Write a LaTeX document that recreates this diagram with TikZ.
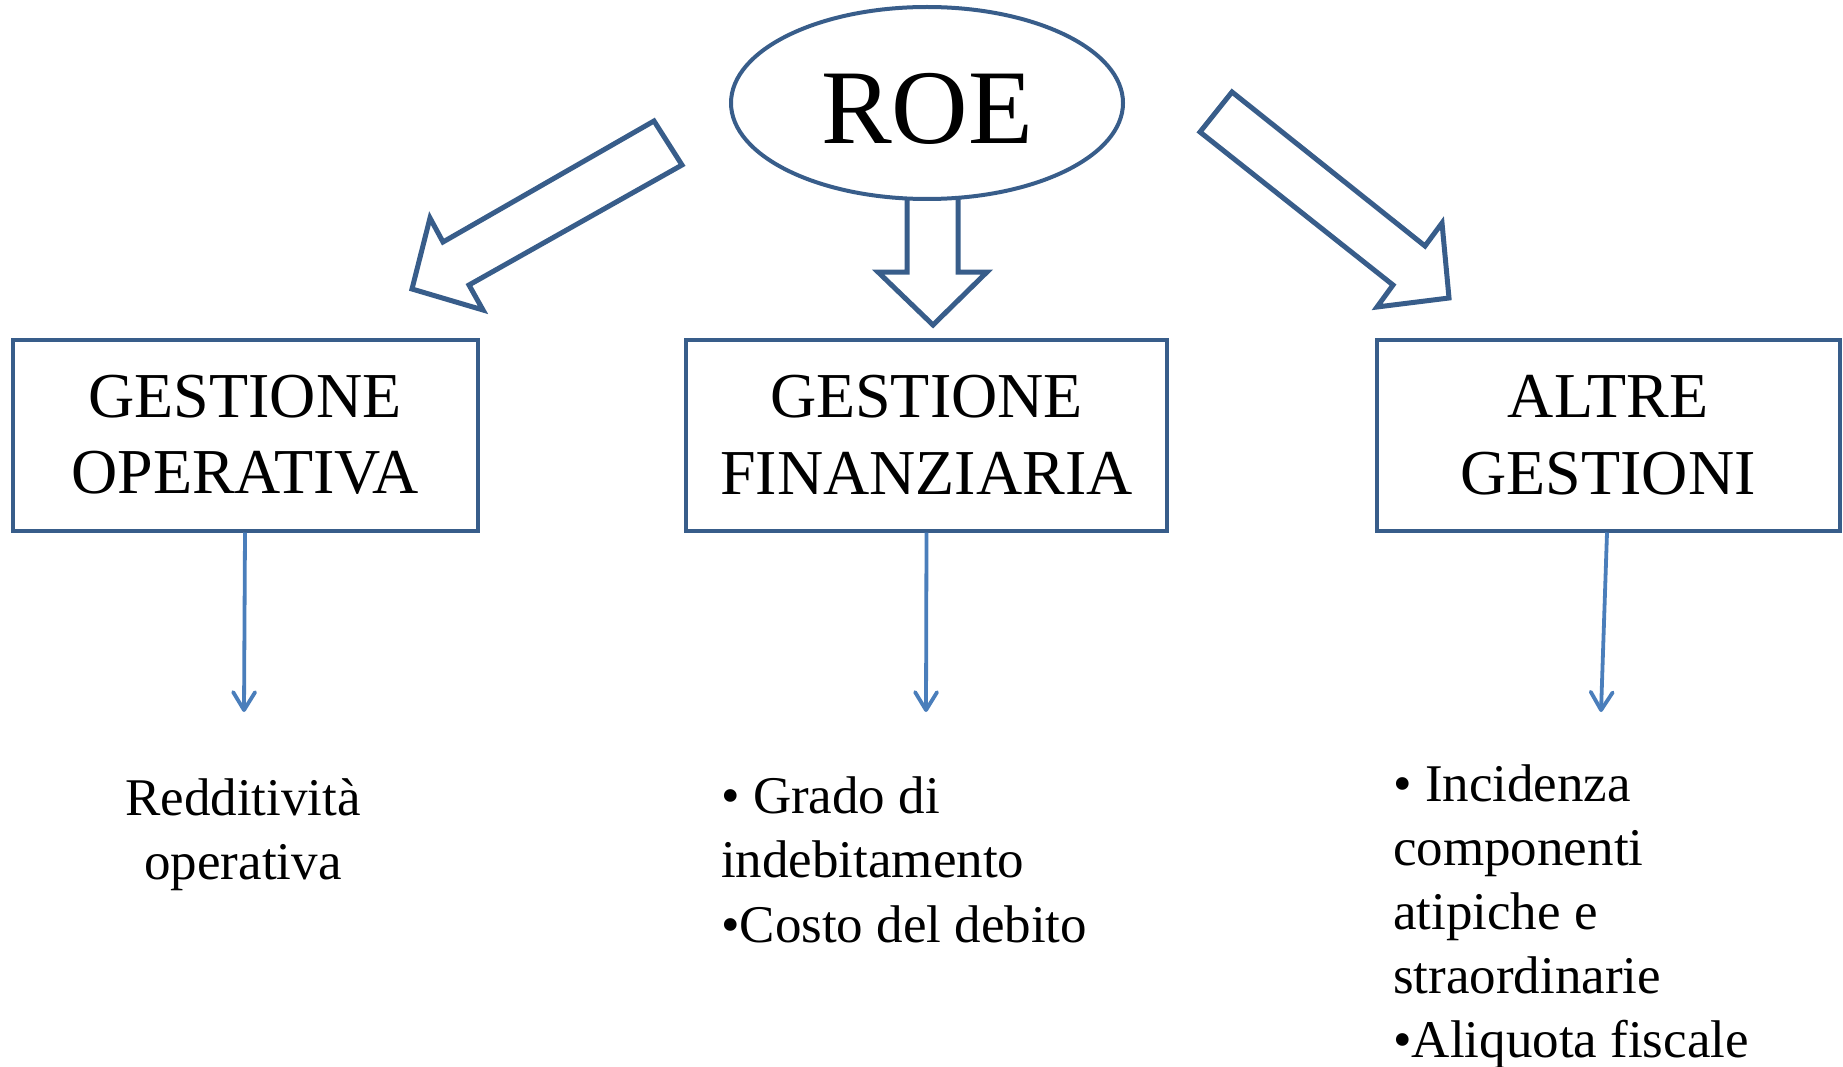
\documentclass[tikz,border=0pt]{standalone}
\usepackage{fontspec}
\setmainfont{Liberation Serif}
\usepackage{tikz}
\usepackage{xcolor}
\usetikzlibrary{arrows.meta,shapes.geometric}

\definecolor{outlineblue}{RGB}{56,93,138}
\definecolor{linkblue}{RGB}{74,126,187}

\begin{document}
\begin{tikzpicture}[x=1pt,y=-1pt,
      roe/.style={ellipse, draw=outlineblue, line width=4pt, fill=white, minimum width=392pt, minimum height=192pt, inner sep=0pt, text height=82pt, text depth=0pt, font={\fontsize{106}{110}\selectfont}},
      gestbox/.style={rectangle, draw=outlineblue, line width=4pt, inner sep=0pt, align=center, minimum height=191pt, font={\fontsize{64}{76.5}\selectfont}},
      bigarrow/.style={draw=outlineblue, line width=5pt, fill=white, line join=miter},
      thinarrow/.style={-{Straight Barb[length=18pt,width=22pt,line cap=round,line join=round]}, draw=linkblue, line width=3.8pt},
      voce/.style={inner sep=0pt, font={\fontsize{53}{64.5}\selectfont}}]

    \useasboundingbox (0,0) rectangle (1843,1067);

    %draw block arrows
    \draw[bigarrow] (654,121) -- (682,165) -- (469,285) -- (483,310) -- (412,289) -- (430,218) -- (443,242) -- cycle;
    \draw[bigarrow] (907,190) -- (958,190) -- (958,272) -- (987,272) -- (933,325) -- (878,272) -- (907,272) -- cycle;
    \draw[bigarrow] (1232,92) -- (1200,132) -- (1393,285) -- (1377,307) -- (1449,298) -- (1442,223) -- (1425,246) -- cycle;

    %draw ROE
    \node[roe] (roe) at (927,103) {ROE};

    %draw boxes
    \node[gestbox, minimum width=465pt] (oper) at (245,435) {GESTIONE\\OPERATIVA};
    \node[gestbox, minimum width=481pt] (fin) at (926.5,435) {GESTIONE\\FINANZIARIA};
    \node[gestbox, minimum width=463pt] (altre) at (1608,435) {ALTRE\\GESTIONI};

    %draw thin arrows
    \coordinate (oper-end) at (244,712);
    \coordinate (fin-end) at (926,712);
    \coordinate (altre-end) at (1601,712);
    \draw[thinarrow] (oper.south) -- (oper-end);
    \draw[thinarrow] (fin.south) -- (fin-end);
    \draw[thinarrow] ([xshift=-1pt]altre.south) -- (altre-end);

    %draw indicators (base = last line)
    \node[voce, align=center, anchor=base, font={\fontsize{53}{64}\selectfont}] (redd) at (243,879) {Redditività\\operativa};
    \node[voce, align=left, anchor=base west] (debt) at (721,942) {• Grado di\\indebitamento\\•Costo del debito};
    \node[voce, align=left, anchor=base west, font={\fontsize{53}{63.8}\selectfont}] (other) at (1393,1057) {• Incidenza\\componenti\\atipiche e\\straordinarie\\•Aliquota fiscale};

\end{tikzpicture}
\end{document}
